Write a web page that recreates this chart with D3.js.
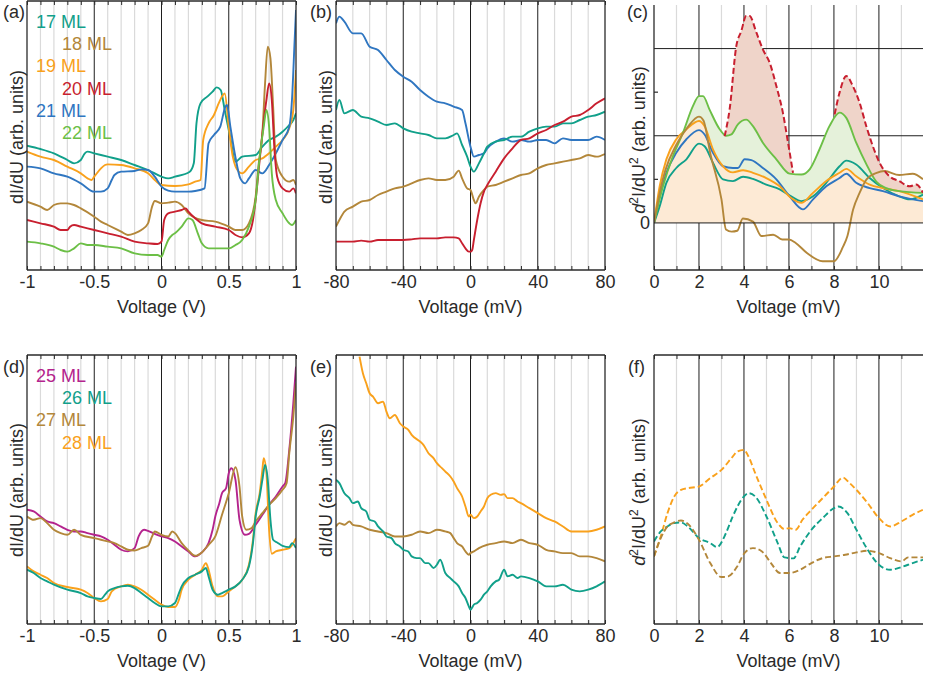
<!DOCTYPE html>
<html><head><meta charset="utf-8">
<script src="https://cdn.jsdelivr.net/npm/d3@7"></script>
<style>
body{margin:0;background:#fff}
svg{display:block}
text{font-family:"Liberation Sans",Arial,Helvetica,sans-serif;fill:#2a2a2a}
</style>
</head><body>
<svg id="fig" width="925" height="676"></svg>
<script>
// ---------------- DATA (arb. units) ----------------
// Panel (a): dI/dU vs Voltage (V)
const a17 = [[-1,37.3],[-0.9,36.3],[-0.8,35],[-0.7,33],[-0.65,32],[-0.6,33],[-0.57,35],[-0.55,35.5],[-0.5,35],[-0.4,34],[-0.3,33],[-0.2,31.5],[-0.1,30],[0,28],[0.05,27.5],[0.1,28],[0.21,29.5],[0.24,32],[0.26,44],[0.29,50],[0.34,52],[0.38,53.5],[0.41,54.8],[0.44,54],[0.47,48],[0.51,40],[0.55,32.5],[0.6,34],[0.7,34.5],[0.75,37],[0.8,39],[0.85,40],[0.9,41.5],[0.95,43.5],[0.98,45],[1,47]];
const a18 = [[-1,20.5],[-0.9,19],[-0.85,18],[-0.8,19.5],[-0.75,20],[-0.7,20],[-0.65,19.5],[-0.6,18.5],[-0.5,16],[-0.45,14.5],[-0.4,13.5],[-0.3,11.5],[-0.25,10.5],[-0.2,11],[-0.15,12],[-0.1,14],[-0.07,19],[-0.05,20.7],[0,20],[0.05,20.2],[0.1,20.5],[0.15,19.5],[0.2,17],[0.3,15],[0.4,14.5],[0.5,13],[0.55,12],[0.6,12],[0.65,14],[0.7,22],[0.72,31],[0.75,41],[0.77,56],[0.79,67],[0.81,63.5],[0.83,49],[0.85,33],[0.9,28],[0.95,26.5],[0.98,27],[1,25.5]];
const a19 = [[-1,35.5],[-0.9,34],[-0.8,33],[-0.7,31],[-0.6,29],[-0.55,27.5],[-0.52,27],[-0.5,28],[-0.45,30.5],[-0.42,31.5],[-0.4,31.7],[-0.3,31.5],[-0.2,30.5],[-0.1,29],[-0.05,27],[0,25.5],[0.1,25.2],[0.2,25.7],[0.25,26.5],[0.29,27],[0.31,39],[0.35,44],[0.39,46.5],[0.425,50],[0.457,52.5],[0.47,53],[0.5,43],[0.53,34],[0.574,29.5],[0.6,29],[0.65,31],[0.7,33],[0.75,33.5],[0.8,35],[0.85,37],[0.9,39],[0.95,42.5],[0.98,48],[1,60]];
const a20 = [[-1,15],[-0.9,14],[-0.8,13],[-0.75,12],[-0.7,12],[-0.68,13],[-0.65,13.5],[-0.6,13],[-0.5,12],[-0.4,11],[-0.3,10],[-0.2,8.5],[-0.1,8],[-0.03,7.8],[0,8.5],[0.02,15],[0.05,17],[0.1,17.5],[0.15,18],[0.18,18.5],[0.2,17.5],[0.25,15.5],[0.3,14],[0.4,13],[0.5,12],[0.55,10.5],[0.6,9.8],[0.65,11],[0.68,15],[0.7,21],[0.73,33],[0.75,41],[0.78,51],[0.8,56],[0.82,51],[0.84,36],[0.86,28],[0.9,24.5],[0.95,23.5],[0.98,24.5],[1,23]];
const a21 = [[-1,31],[-0.9,30.5],[-0.8,29],[-0.7,28],[-0.6,26],[-0.5,23.5],[-0.45,23.5],[-0.4,24.5],[-0.37,27],[-0.35,28.5],[-0.3,29.5],[-0.2,29.7],[-0.15,30.2],[-0.1,30],[-0.05,28],[0,25],[0.05,23.8],[0.1,23.5],[0.2,23.5],[0.25,23.7],[0.32,24.5],[0.35,38],[0.39,40.5],[0.437,43],[0.475,49],[0.487,49.5],[0.512,43],[0.549,34],[0.586,27.5],[0.623,26],[0.65,27.5],[0.7,30],[0.75,29],[0.8,31.5],[0.85,35],[0.9,39],[0.95,43],[0.97,51],[0.99,69],[1,78]];
const a22 = [[-1,8.5],[-0.9,8],[-0.8,7],[-0.75,6],[-0.7,5.5],[-0.65,6.5],[-0.6,8],[-0.55,7.5],[-0.5,7.5],[-0.4,7],[-0.3,6.5],[-0.2,5],[-0.1,4.5],[-0.03,4.5],[0,4],[0.02,6],[0.05,9],[0.08,10.5],[0.1,11],[0.15,13],[0.2,15.5],[0.23,15],[0.27,11],[0.3,8],[0.35,6.5],[0.4,6.5],[0.5,6.5],[0.55,7.5],[0.6,9],[0.65,13],[0.7,21],[0.73,34],[0.76,43],[0.78,48],[0.8,43],[0.82,29],[0.85,21],[0.9,17],[0.95,14],[0.97,13.5],[1,15]];

// Panel (b): dI/dU vs Voltage (mV)
const b17 = [[-80,48],[-78,51],[-75,47],[-70,48],[-65,46],[-60,45.5],[-55,44.5],[-50,43.5],[-45,44],[-40,42.5],[-35,41.5],[-30,41],[-25,40.5],[-20,39.5],[-15,39.5],[-10,40.5],[-8,41],[-5,37.5],[-2,34],[0,31],[2,29.5],[5,32],[8,35],[10,37],[15,38.5],[20,39],[25,40],[30,40],[35,41.5],[40,42.5],[45,43],[50,43],[55,44],[60,44],[65,45],[70,46],[75,46.5],[80,47.5]];
const b18 = [[-80,13],[-78,15],[-75,17.5],[-70,19],[-65,20.5],[-60,21],[-55,22.5],[-50,23.5],[-45,24.5],[-40,25],[-35,26],[-30,27],[-25,27.5],[-20,27],[-15,27],[-10,28],[-7,29.8],[-5,27.5],[-2,24.5],[0,24],[2,21],[3,20],[5,22],[8,24],[10,25],[15,25.5],[20,26.5],[25,27.5],[30,28.5],[35,29],[40,30.5],[45,31.5],[50,32],[55,32.5],[60,33],[65,33.5],[70,34.5],[75,34],[80,34.8]];
const b20 = [[-80,8.5],[-75,8.5],[-70,8.5],[-65,8.8],[-60,8.5],[-55,9],[-50,9],[-45,9],[-40,9],[-35,9.2],[-30,9.5],[-25,9.5],[-20,9.5],[-15,9.8],[-10,9.8],[-7,9.5],[-5,8],[-3,6.5],[-1,5.5],[0,5.5],[1,6],[2,9],[4,15],[6,20],[8,23.5],[10,25.5],[15,29.5],[20,33.5],[25,36.5],[30,39],[35,39.5],[40,41],[45,42],[50,43.5],[55,44.5],[60,46],[65,46.5],[70,48],[75,50],[80,51.5]];
const b21 = [[-80,74],[-78,76],[-75,74.5],[-70,71],[-65,71],[-60,67],[-55,66],[-50,63],[-45,60],[-40,58],[-35,56.5],[-30,54],[-25,52],[-20,50.5],[-15,50],[-10,49],[-5,48],[-3,44],[0,37],[2,34],[5,34.5],[8,35],[10,36.5],[15,38.5],[20,39.5],[25,38.5],[30,39],[35,38.5],[40,39],[45,39],[50,38],[55,39.5],[60,39],[65,39],[70,39],[75,40],[80,39]];

// Panel (c): d2I/dU2 vs Voltage (mV)
const c17 = [[0,0],[0.25,0.38],[0.55,0.92],[0.99,1.26],[1.44,1.46],[2,1.82],[2.25,1.76],[2.62,1.38],[3.07,1],[3.51,0.96],[3.96,1.06],[4.4,1.01],[4.99,0.88],[5.59,0.77],[6.1,0.61],[6.55,0.5],[7.07,0.61],[7.66,0.92],[8.25,1.3],[8.55,1.43],[8.99,1.34],[9.59,1.03],[10.18,0.8],[10.9,0.61],[11.36,0.54],[11.96,0.65]];
const c18 = [[0,0],[0.3,0.8],[0.5,1.2],[1,1.8],[1.5,2.2],[2,2.44],[2.2,2.35],[2.5,1.6],[3,0.54],[3.2,-0.15],[3.45,-0.2],[3.7,-0.18],[3.95,0.1],[4.4,0.03],[4.77,-0.3],[5.3,-0.27],[5.7,-0.38],[6,-0.38],[6.3,-0.46],[6.8,-0.69],[7.5,-0.88],[8,-0.88],[8.4,-0.55],[8.6,-0.3],[8.85,0.3],[9.15,0.7],[9.45,1],[9.9,1.15],[10.25,1.19],[10.9,1.1],[11.5,1.13],[11.96,1]];
const c19 = [[0,0],[0.25,0.84],[0.55,1.46],[0.99,1.92],[1.44,2.15],[2,2.34],[2.25,2.22],[2.62,1.69],[3.07,1.3],[3.51,1.16],[3.96,1.21],[4.4,1.15],[4.99,1.03],[5.59,0.84],[6.1,0.57],[6.55,0.46],[7.07,0.69],[7.66,0.96],[8.25,1.15],[8.55,1.24],[8.99,1.07],[9.59,0.88],[10.18,0.8],[10.9,0.73],[11.96,0.54]];
const c20 = [[3.14,1.99],[3.36,2.6],[3.66,4.06],[3.88,4.4],[4.1,4.75],[4.25,4.75],[4.55,4.37],[4.84,3.98],[5.14,3.68],[5.44,3.14],[5.73,2.53],[5.96,1.84],[6.18,1.15],[7,null],[8.03,2.49],[8.25,2.99],[8.55,3.37],[8.84,3.14],[9.14,2.76],[9.44,2.22],[9.73,1.76],[10.03,1.38],[10.47,1.07],[10.9,0.96],[11.36,0.84],[11.66,0.88],[11.96,0.69]];
const c21 = [[0,0],[0.25,0.61],[0.55,1.15],[0.99,1.61],[1.44,1.92],[2,2.13],[2.25,2.03],[2.62,1.61],[3.07,1.3],[3.51,1.26],[3.73,1.26],[4.03,1.46],[4.33,1.44],[4.84,1.26],[5.44,1],[6.03,0.61],[6.62,0.31],[7.07,0.54],[7.66,0.84],[8.25,1.03],[8.55,1.13],[8.99,0.92],[9.59,0.8],[10.18,0.73],[10.9,0.61],[11.96,0.5]];
const c22 = [[0,0],[0.4,0.84],[0.84,1.53],[1.29,2.07],[1.73,2.68],[2,2.91],[2.18,2.91],[2.47,2.6],[2.92,2.15],[3.21,2],[3.44,2.03],[3.73,2.26],[4.1,2.37],[4.4,2.22],[4.84,1.84],[5.44,1.46],[6.03,1.13],[6.55,1.11],[6.92,1.23],[7.36,1.69],[7.8,2.22],[8.25,2.53],[8.55,2.41],[8.99,1.84],[9.44,1.35],[9.88,0.95],[10.33,0.8],[10.9,0.73],[11.96,0.69]];

// Panel (d): dI/dU vs Voltage (V)
const d25 = [[-1,34.3],[-0.95,33.8],[-0.9,32.3],[-0.85,30.8],[-0.8,30.3],[-0.75,29.3],[-0.7,28.3],[-0.65,27.8],[-0.6,27.8],[-0.55,27.3],[-0.5,26.8],[-0.45,26.3],[-0.4,25.3],[-0.35,23.8],[-0.3,22.3],[-0.25,21.8],[-0.2,22.8],[-0.17,26.3],[-0.13,28.3],[-0.1,28],[-0.05,27.1],[0,26.3],[0.05,25.8],[0.1,24.8],[0.15,23.3],[0.2,21.8],[0.25,20.3],[0.3,21.5],[0.35,24.3],[0.38,28.3],[0.4,32.3],[0.43,36.3],[0.45,39.3],[0.48,40.8],[0.5,45.3],[0.52,46.8],[0.55,43.3],[0.58,31.3],[0.62,26.8],[0.65,27.1],[0.7,29.8],[0.75,32.8],[0.8,35.8],[0.85,38.3],[0.9,41.3],[0.92,42.3],[0.95,52.3],[0.98,66.3],[1,77.3]];
const d26 = [[-1,16.3],[-0.95,15.3],[-0.9,13.8],[-0.85,12.8],[-0.8,11.8],[-0.7,10.3],[-0.6,9.3],[-0.55,8.3],[-0.5,7.8],[-0.45,7.5],[-0.42,8.8],[-0.4,9.8],[-0.35,10.8],[-0.3,11.3],[-0.25,11.5],[-0.2,10.8],[-0.15,9.3],[-0.1,7.8],[-0.05,6.3],[0,5.3],[0.05,5.3],[0.1,6.3],[0.13,9.3],[0.15,11.3],[0.2,13.8],[0.25,14.8],[0.3,15.8],[0.33,16.8],[0.35,14.3],[0.38,10.3],[0.42,8.8],[0.45,9.3],[0.5,10.3],[0.55,11.3],[0.6,13.3],[0.65,17.3],[0.68,24.3],[0.7,32.3],[0.73,38.3],[0.75,43.3],[0.77,47.8],[0.79,43.3],[0.81,31.3],[0.83,25.3],[0.86,24.5],[0.9,23.5],[0.95,23.1],[0.97,24.3],[1,22.8]];
const d27 = [[-1,32.3],[-0.95,31.3],[-0.9,31.8],[-0.85,30.3],[-0.8,28.3],[-0.75,27.3],[-0.7,26.8],[-0.65,28.3],[-0.6,26.8],[-0.5,25.8],[-0.45,25.3],[-0.4,24.8],[-0.35,24.3],[-0.3,23.3],[-0.25,22.3],[-0.2,22.1],[-0.15,22.8],[-0.1,23.5],[-0.07,26.3],[-0.05,27.8],[0,26.8],[0.05,26.3],[0.08,27.8],[0.1,27.3],[0.15,24.3],[0.2,22.1],[0.25,20.5],[0.3,21.5],[0.35,23.8],[0.4,26.3],[0.45,32.8],[0.5,39.3],[0.55,47.1],[0.58,41.3],[0.6,32.3],[0.63,28.3],[0.67,28.8],[0.7,30.8],[0.75,33.3],[0.8,35.8],[0.85,37.8],[0.9,40.3],[0.93,42.3],[0.95,51.3],[0.98,62.3],[1,72.3]];
const d28 = [[-1,17.3],[-0.95,15.8],[-0.9,14.8],[-0.85,13.8],[-0.8,12.3],[-0.7,11.1],[-0.6,10.3],[-0.55,9.3],[-0.5,7.8],[-0.45,6.8],[-0.4,7.5],[-0.37,9.8],[-0.3,11.3],[-0.25,11.8],[-0.2,11.3],[-0.15,10.3],[-0.1,8.8],[-0.05,7.3],[0,5.8],[0.05,5.1],[0.1,5.1],[0.13,7.3],[0.15,10.3],[0.2,13.3],[0.25,14.8],[0.3,16.3],[0.33,18.3],[0.35,16.3],[0.38,11.3],[0.42,8.3],[0.45,8.3],[0.5,9.8],[0.55,11.3],[0.6,13.3],[0.65,17.8],[0.68,25.3],[0.7,33.3],[0.73,39.3],[0.75,46.3],[0.76,49.8],[0.78,45.3],[0.8,28.3],[0.82,21.1],[0.85,21.8],[0.9,22.3],[0.95,22.8],[1,25.8]];

// Panel (e): dI/dU vs Voltage (mV)
const e26 = [[-80,43.3],[-78,42.3],[-75,39.3],[-72,37.8],[-70,36.3],[-67,36.8],[-65,34.8],[-62,33.8],[-60,31.3],[-57,30.8],[-55,29.3],[-52,27.8],[-50,26.3],[-47,25.8],[-45,24.3],[-42,23.3],[-40,22.3],[-37,21.8],[-35,20.3],[-32,19.8],[-30,19.8],[-27,18.3],[-25,18.3],[-22,16.8],[-20,17.8],[-18,19.3],[-15,15.3],[-12,13.8],[-10,12.8],[-7,11.3],[-5,9.3],[-3,7.8],[-1,5.3],[0,4.3],[2,5.8],[4,6.3],[6,7.3],[8,8.8],[10,9.8],[12,11.3],[15,12.8],[17,13.3],[20,16.3],[22,14.3],[25,14.8],[28,13.8],[30,14.3],[35,13.8],[40,12.8],[45,11.3],[50,11.3],[55,11.8],[60,10.3],[65,9.8],[70,10.3],[75,11.3],[80,12.8]];
const e27 = [[-80,29.3],[-78,30.3],[-75,29.8],[-72,30.8],[-70,29.8],[-65,29.3],[-60,28.3],[-55,27.8],[-50,27.3],[-45,26.3],[-40,26.3],[-35,26.8],[-30,27.8],[-25,27.3],[-20,28.3],[-15,27.8],[-12,27.3],[-10,25.8],[-8,24.3],[-5,23.3],[-3,21.8],[-1,20.8],[0,21.3],[2,21.8],[5,22.8],[10,23.8],[15,24.3],[20,24.8],[25,24.3],[30,25.3],[35,24.3],[40,23.8],[45,22.3],[50,21.8],[55,21.3],[60,21.3],[65,20.3],[70,20.3],[75,19.8],[80,18.8]];
const e28 = [[-66,80.3],[-64,75.3],[-62,72.3],[-60,69.3],[-58,68.3],[-55,66.3],[-52,66.8],[-50,63.8],[-48,61.8],[-45,62.8],[-42,60.3],[-40,59.3],[-37,58.3],[-35,56.8],[-30,54.8],[-28,53.8],[-25,51.3],[-22,49.8],[-20,48.3],[-17,46.8],[-15,45.8],[-12,44.3],[-10,42.8],[-8,40.8],[-5,38.3],[-3,35.3],[-1,32.3],[0,32.8],[2,31.8],[4,32.3],[6,33.8],[8,35.3],[10,37.8],[12,38.8],[15,39.3],[18,38.8],[20,39],[22,37.8],[25,37.8],[28,36.8],[30,36.3],[35,34.8],[40,33.3],[45,31.8],[50,30.8],[55,29.3],[60,27.8],[65,27.8],[70,27.8],[75,28.3],[80,29.3]];

// Panel (f): d2I/dU2 vs Voltage (mV)
const f26 = [[0,24.8],[0.3,27.8],[0.6,29.3],[0.9,30.3],[1.2,30.5],[1.5,29.3],[2,25.8],[2.5,24.3],[2.8,23.1],[3.2,27.3],[3.5,32.3],[4,38.3],[4.2,39.3],[4.5,38.3],[5,32.3],[5.5,24.3],[5.8,20],[6.2,19.7],[6.5,23.3],[7,28.3],[7.5,31.8],[8,34.8],[8.2,35.3],[8.6,33.3],[9,28.3],[9.5,22.3],[10,17.8],[10.5,16.3],[11,17.1],[11.5,18.3],[11.96,19.3]];
const f27 = [[0,20.3],[0.3,25.8],[0.6,29.3],[0.9,30.5],[1.2,31.1],[1.5,30.1],[2,25.3],[2.5,18.3],[3,14.1],[3.3,14.3],[3.7,17.3],[4,21.1],[4.4,22.8],[4.8,21.8],[5.2,18.3],[5.6,15.3],[6,15.3],[6.5,16.3],[7,18.3],[7.5,19.8],[8,20.3],[8.5,20.8],[9,21.5],[9.5,22],[10,21.3],[10.5,19.8],[11,18.8],[11.3,20],[11.96,20]];
const f28 = [[0,20.3],[0.3,26.3],[0.6,33.3],[0.9,38.3],[1.2,40.3],[1.5,40.8],[2,41.3],[2.5,43.8],[3,46.3],[3.5,50.3],[3.7,51.8],[4,52.3],[4.2,50.3],[4.5,45.3],[5,37.3],[5.5,30.3],[5.8,28.5],[6,28.8],[6.3,28.3],[6.6,31.3],[7,34.3],[7.5,37.8],[8,41.3],[8.4,44],[8.7,42.3],[9,40.3],[9.5,36.3],[10,31.8],[10.5,29.3],[11,30.8],[11.5,32.8],[11.96,34.3]];

// Axis ticks / labels
const ticksV = [-1,-0.5,0,0.5,1];
const ticksMV = [-80,-40,0,40,80];
const ticksD2 = [0,2,4,6,8,10];
const legendA = ["17 ML","18 ML","19 ML","20 ML","21 ML","22 ML"];
const legendD = ["25 ML","26 ML","27 ML","28 ML"];

// ---------------- DRAWING ----------------
const COL = {teal:"#11a08a", brown:"#b3873a", orange:"#f9a11c", red:"#c81f2f", blue:"#2f76c1", green:"#6cbf46", mag:"#b4238d"};
const FS = 18;
const svg = d3.select("#fig");
let clipId = 0;

function panel(o){
  const g = svg.append("g");
  const x = d3.scaleLinear().domain(o.xd).range([o.L, o.R]);
  const y = d3.scaleLinear().domain(o.yd).range([o.B, o.T]);
  const id = "clip" + (clipId++);
  g.append("clipPath").attr("id", id).append("rect")
    .attr("x", o.L).attr("y", o.T).attr("width", o.R - o.L).attr("height", o.B - o.T);
  o.minor.forEach(v => g.append("line").attr("x1", x(v)).attr("x2", x(v)).attr("y1", o.T).attr("y2", o.B)
      .attr("stroke", "#dadada").attr("stroke-width", 1.2));
  o.major.forEach(v => g.append("line").attr("x1", x(v)).attr("x2", x(v)).attr("y1", o.T).attr("y2", o.B)
      .attr("stroke", "#1e1e1e").attr("stroke-width", 1));
  (o.hmajor||[]).forEach(v => g.append("line").attr("x1", o.L).attr("x2", o.R).attr("y1", y(v)).attr("y2", y(v))
      .attr("stroke", "#1e1e1e").attr("stroke-width", 1));
  const plot = g.append("g").attr("clip-path", `url(#${id})`);
  return {g, x, y, plot, o};
}

function drawLine(P, data, color, dash, w){
  const line = d3.line().defined(d => d[1] !== null).x(d => P.x(d[0])).y(d => P.y(d[1])).curve(d3.curveMonotoneX);
  P.plot.append("path").datum(data).attr("d", line).attr("fill", "none")
    .attr("stroke", color).attr("stroke-width", w || 1.9).attr("stroke-linejoin", "round")
    .attr("stroke-dasharray", dash || null);
}
function drawArea(P, data, color){
  const area = d3.area().defined(d => d[1] !== null).x(d => P.x(d[0])).y0(P.y(0)).y1(d => P.y(d[1])).curve(d3.curveMonotoneX);
  P.plot.append("path").datum(data).attr("d", area).attr("fill", color).attr("stroke", "none");
}

function frame(P, sides, minorTicks, labels, xlabel, ylabelFn, tag, tagX, tagY){
  const {g, x, o} = P;
  const ax = g.append("g");
  const seg = (x1,y1,x2,y2) => ax.append("line").attr("x1",x1).attr("y1",y1).attr("x2",x2).attr("y2",y2)
      .attr("stroke","#2a2a2a").attr("stroke-width",1.3);
  if (sides.includes("b")) seg(o.L, o.B, o.R, o.B);
  if (sides.includes("l")) seg(o.L, o.T, o.L, o.B);
  if (sides.includes("t")) seg(o.L, o.T, o.R, o.T);
  if (sides.includes("r")) seg(o.R, o.T, o.R, o.B);
  ax.append("g").attr("transform", `translate(0,${o.B})`)
    .call(d3.axisBottom(x).tickValues(minorTicks).tickSize(-4).tickFormat(""))
    .call(a => { a.select(".domain").remove(); a.selectAll("line").attr("stroke","#2a2a2a"); });
  if (sides.includes("t")) ax.append("g").attr("transform", `translate(0,${o.T})`)
    .call(d3.axisTop(x).tickValues(minorTicks).tickSize(-4).tickFormat(""))
    .call(a => { a.select(".domain").remove(); a.selectAll("line").attr("stroke","#2a2a2a"); });
  const lab = ax.append("g").attr("transform", `translate(0,${o.B})`)
    .call(d3.axisBottom(x).tickValues(labels).tickSize(0).tickPadding(5).tickFormat(d => String(d)));
  lab.select(".domain").remove();
  lab.selectAll("text").attr("font-size", FS).attr("fill", "#2a2a2a")
    .attr("font-family", '"Liberation Sans",Arial,sans-serif').attr("dy", "0.71em");
  g.append("text").attr("x", (o.L + o.R) / 2).attr("y", o.B + 43).attr("text-anchor", "middle")
    .attr("font-size", FS).text(xlabel);
  ylabelFn(g);
  g.append("text").attr("x", tagX).attr("y", tagY).attr("text-anchor", "end").attr("font-size", FS).text(tag);
}

function yLabelPlain(cx, cy){
  return g => g.append("text").attr("transform", `translate(${cx},${cy}) rotate(-90)`)
    .attr("text-anchor", "middle").attr("font-size", FS).text("dI/dU (arb. units)");
}
function yLabelD2(cx, cy){
  return g => {
    const t = g.append("text").attr("transform", `translate(${cx},${cy}) rotate(-90)`)
      .attr("text-anchor", "middle").attr("font-size", FS);
    t.append("tspan").attr("font-style", "italic").text("d");
    t.append("tspan").attr("font-size", 12).attr("dy", -7).text("2");
    t.append("tspan").attr("dy", 7).text("I/dU");
    t.append("tspan").attr("font-size", 12).attr("dy", -7).text("2");
    t.append("tspan").attr("dy", 7).text(" (arb. units)");
  };
}

const range = (a, b, s) => d3.range(a, b + s / 2, s).map(v => +v.toFixed(4));

// ----- (a)
const PA = panel({L:27, R:296, T:1, B:270, xd:[-1,1], yd:[0,80.7],
  minor: range(-0.9, 0.9, 0.1).filter(v => Math.abs(v) !== 0.5 && v !== 0), major:[-0.5,0,0.5]});
[[a17,COL.teal],[a19,COL.orange],[a21,COL.blue],[a18,COL.brown],[a20,COL.red],[a22,COL.green]].forEach(([d,c]) => drawLine(PA, d, c));
frame(PA, "bltr", range(-1,1,0.1), ticksV, "Voltage (V)", yLabelPlain(23, 137), "(a)", 25, 18);
const legColA = [COL.teal, COL.brown, COL.orange, COL.red, COL.blue, COL.green];
legendA.forEach((t, i) => svg.append("text").attr("x", i % 2 ? 62 : 36).attr("y", 28 + i * 22.2)
  .attr("font-size", FS).style("fill", legColA[i]).text(t));

// ----- (b)
const PB = panel({L:336, R:605, T:1, B:270, xd:[-80,80], yd:[0,80.7],
  minor: range(-70, 70, 10).filter(v => v !== -40 && v !== 0 && v !== 40), major:[-40,0,40]});
[[b21,COL.blue],[b17,COL.teal],[b18,COL.brown],[b20,COL.red]].forEach(([d,c]) => drawLine(PB, d, c));
frame(PB, "bltr", range(-80,80,10), ticksMV, "Voltage (mV)", yLabelPlain(332, 137), "(b)", 332, 18);

// ----- (c)
const PC = panel({L:654, R:923, T:5, B:270, xd:[0,11.96], yd:[-1.08,5],
  minor:[1,3,5,7,9,11], major:[2,4,6,8,10], hmajor:[2,4]});
drawArea(PC, c20, "#efd4c9");
drawArea(PC, c22, "#e5f1da");
drawArea(PC, c19, "#fdead5");
PC.g.append("line").attr("x1", 654).attr("x2", 923).attr("y1", PC.y(0)).attr("y2", PC.y(0)).attr("stroke", "#1e1e1e").attr("stroke-width", 1);
[[c17,COL.teal],[c21,COL.blue],[c19,COL.orange],[c22,COL.green],[c18,COL.brown]].forEach(([d,c]) => drawLine(PC, d, c));
drawLine(PC, c20, COL.red, "6,3", 2);
frame(PC, "bl", range(0,11,1), ticksD2, "Voltage (mV)", yLabelD2(645, 140), "(c)", 648, 18);
[1,3].forEach(v => PC.g.append("line").attr("x1", 654).attr("x2", 658).attr("y1", PC.y(v)).attr("y2", PC.y(v)).attr("stroke", "#2a2a2a").attr("stroke-width", 1.2));
PC.g.append("text").attr("x", 650).attr("y", PC.y(0)).attr("dy", "0.35em").attr("text-anchor", "end").attr("font-size", FS).text("0");

// ----- (d)
const PD = panel({L:27, R:296, T:355, B:624, xd:[-1,1], yd:[0,80.8],
  minor: range(-0.9, 0.9, 0.1).filter(v => Math.abs(v) !== 0.5 && v !== 0), major:[-0.5,0,0.5]});
[[d25,COL.mag],[d27,COL.brown],[d28,COL.orange],[d26,COL.teal]].forEach(([d,c]) => drawLine(PD, d, c));
frame(PD, "bltr", range(-1,1,0.1), ticksV, "Voltage (V)", yLabelPlain(23, 490), "(d)", 25, 373);
const legColD = [COL.mag, COL.teal, COL.brown, COL.orange];
legendD.forEach((t, i) => svg.append("text").attr("x", i % 2 ? 62 : 36).attr("y", 382 + i * 22.2)
  .attr("font-size", FS).style("fill", legColD[i]).text(t));

// ----- (e)
const PE = panel({L:336, R:605, T:355, B:624, xd:[-80,80], yd:[0,80.8],
  minor: range(-70, 70, 10).filter(v => v !== -40 && v !== 0 && v !== 40), major:[-40,0,40]});
[[e28,COL.orange],[e27,COL.brown],[e26,COL.teal]].forEach(([d,c]) => drawLine(PE, d, c));
frame(PE, "bltr", range(-80,80,10), ticksMV, "Voltage (mV)", yLabelPlain(332, 490), "(e)", 332, 373);

// ----- (f)
const PF = panel({L:654, R:923, T:355, B:624, xd:[0,11.96], yd:[0,80.8],
  minor:[1,3,5,7,9,11], major:[2,4,6,8,10]});
[[f28,COL.orange],[f26,COL.teal],[f27,COL.brown]].forEach(([d,c]) => drawLine(PF, d, c, "6,3", 1.9));
frame(PF, "blt", range(0,11,1), ticksD2, "Voltage (mV)", yLabelD2(645, 492), "(f)", 645, 373);
</script>
</body></html>
